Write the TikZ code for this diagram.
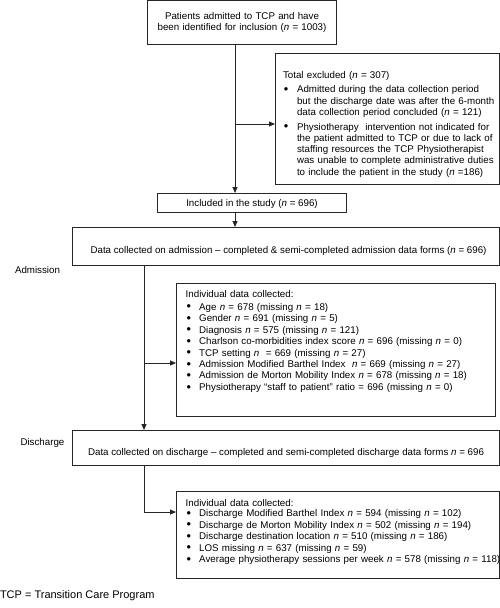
\documentclass[tikz,border=0pt]{standalone}
\usepackage{fontspec}
\setmainfont{Liberation Sans}
\usetikzlibrary{arrows.meta}
\newcommand{\nn}{\textit{n}}
\newcommand{\bitem}[1][13.5pt]{\makebox[#1][l]{\hspace{0.9pt}\raisebox{-0.7pt}{\scalebox{1.3}{\textbullet}}}}
\begin{document}
\begin{tikzpicture}[x=1pt,y=-1pt,
  box/.style={draw=black!85, line width=0.8pt, inner sep=0pt, outer sep=0pt, anchor=north west},
  txt/.style={inner sep=0pt, outer sep=0pt, text=black, font=\fontsize{9.75}{11.3}\selectfont},
  ltxt/.style={txt, anchor=base west, text width=320pt, align=left},
  ctxt/.style={txt, anchor=base, text width=200pt, align=center},
  arr/.style={draw=black!85, line width=0.9pt, -{Triangle[length=6pt,width=5pt]}},
  ln/.style={draw=black!85, line width=0.9pt}]
\useasboundingbox (0,0) rectangle (500,608);
\fill[white] (0,0) rectangle (500,608);
% boxes
\node[box, minimum width=189pt, minimum height=43.5pt] (box1) at (147,0.5) {};
\node[box, minimum width=224.5pt, minimum height=131pt] (excl) at (275,53) {};
\node[box, minimum width=189pt, minimum height=19pt] (incl) at (157,193) {};
\node[box, minimum width=427.5pt, minimum height=38pt] (adm) at (72,227) {};
\node[box, minimum width=319pt, minimum height=133pt] (ind1) at (176,283) {};
\node[box, minimum width=427.5pt, minimum height=35pt] (dis) at (72,430) {};
\node[box, minimum width=323.5pt, minimum height=87pt] (ind2) at (176,491) {};
% texts
\node[ctxt] (t1) at (242,19.2) {Patients admitted to TCP and have\\been identified for inclusion (\nn{} = 1003)};
\node[ltxt] (texcl) at (283,78.2) {Total excluded (\nn{} = 307)\\[3.3pt]
\bitem[14pt]Admitted during the data collection period\\
\hspace*{14pt}but the discharge date was after the 6-month\\
\hspace*{14pt}data collection period concluded (\nn{} = 121)\\[3.3pt]
\bitem[14pt]Physiotherapy\ \ intervention not indicated for\\
\hspace*{14pt}the patient admitted to TCP or due to lack of\\
\hspace*{14pt}staffing resources the TCP Physiotherapist\\
\hspace*{14pt}was unable to complete administrative duties\\
\hspace*{14pt}to include the patient in the study (\nn{} =186)};
\node[txt, anchor=base] (tincl) at (252,206.5) {Included in the study (\nn{} = 696)};
\node[txt, anchor=base] (tadm) at (288.5,253) {Data collected on admission – completed \& semi-completed admission data forms (\nn{} = 696)};
\node[ltxt, font=\fontsize{9.75}{11.47}\selectfont] (tind1) at (185.7,297.2) {Individual data collected:\\[1.5pt]
\bitem Age \nn{} = 678 (missing \nn{} = 18)\\
\bitem Gender \nn{} = 691 (missing \nn{} = 5)\\
\bitem Diagnosis \nn{} = 575 (missing \nn{} = 121)\\
\bitem Charlson co-morbidities index score \nn{} = 696 (missing \nn{} = 0)\\
\bitem TCP setting \nn{}\ \ = 669 (missing \nn{} = 27)\\
\bitem Admission Modified Barthel Index\ \ \nn{} = 669 (missing \nn{} = 27)\\
\bitem Admission de Morton Mobility Index \nn{} = 678 (missing \nn{} = 18)\\
\bitem Physiotherapy “staff to patient” ratio = 696 (missing \nn{} = 0)};
\node[txt, anchor=base] (tdis) at (286,455.5) {Data collected on discharge – completed and semi-completed discharge data forms \nn{} = 696};
\node[ltxt, font=\fontsize{9.75}{11.5}\selectfont] (tind2) at (185.7,506.5) {Individual data collected:\\[-1.3pt]
\bitem Discharge Modified Barthel Index \nn{} = 594 (missing \nn{} = 102)\\
\bitem Discharge de Morton Mobility Index \nn{} = 502 (missing \nn{} = 194)\\
\bitem Discharge destination location \nn{} = 510 (missing \nn{} = 186)\\
\bitem LOS missing \nn{} = 637 (missing \nn{} = 59)\\
\bitem Average physiotherapy sessions per week \nn{} = 578 (missing \nn{} = 118)};
\node[txt, anchor=base west] (ladm) at (15,273) {Admission};
\node[txt, anchor=base west] (ldis) at (20.5,445) {Discharge};
\node[txt, anchor=base west, font=\fontsize{11}{13}\selectfont] (foot) at (0,598.5) {TCP = Transition Care Program};
% connectors
\coordinate (v1) at (235,0);
\coordinate (v2) at (144,0);
\coordinate (b1) at (235,124);
\coordinate (b2) at (144,363);
\coordinate (b3) at (144,512);
\draw[arr] (box1.south -| v1) -- (incl.north -| v1);
\draw[arr] (b1) -- (b1 -| excl.west);
\draw[arr] (incl.south -| v1) -- (adm.north -| v1);
\draw[arr] (adm.south -| v2) -- (dis.north -| v2);
\draw[arr] (b2) -- (b2 -| ind1.west);
\draw[arr] (dis.south -| v2) -- (b3) -- (b3 -| ind2.west);
\end{tikzpicture}
\end{document}
